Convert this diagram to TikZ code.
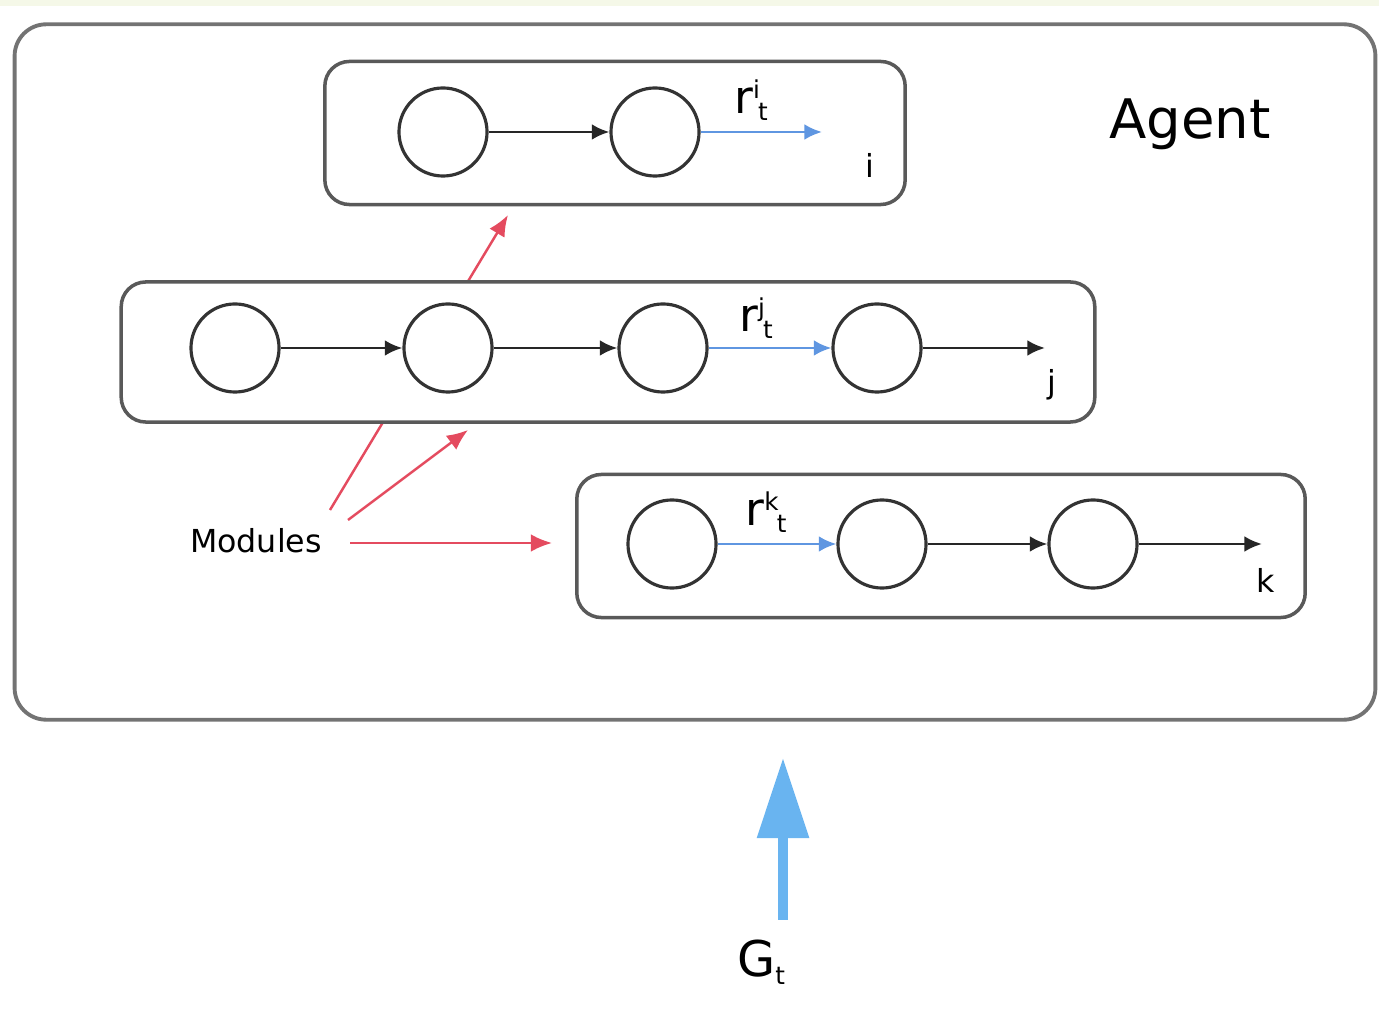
\documentclass[tikz,border=0pt]{standalone}
\usepackage{amsmath}
\usepackage{fontspec}
\setmainfont{DejaVu Sans}
\usetikzlibrary{arrows.meta}

\definecolor{rewblue}{RGB}{95,150,225}
\definecolor{inblue}{RGB}{105,180,240}
\definecolor{modred}{RGB}{228,75,95}
\definecolor{strip}{RGB}{245,248,232}

\begin{document}
\begin{tikzpicture}[x=0.01cm,y=-0.01cm,
  state/.style={circle,draw=black!80,line width=0.9pt,minimum size=0.88cm,inner sep=0pt},
  box/.style={draw=black!65,line width=1pt,rounded corners=7pt,fill=white,inner sep=0pt},
  flow/.style={-{Latex[length=5pt,width=4.5pt]},black!85,line width=0.8pt},
  rew/.style={-{Latex[length=5pt,width=4.5pt]},rewblue,line width=0.8pt},
  mod/.style={-{Latex[length=6pt,width=5pt]},modred,line width=0.7pt},
  rlab/.style={font=\fontsize{13}{13}\selectfont,inner sep=0pt},
  idx/.style={font=\fontsize{9}{9}\selectfont,inner sep=0pt}]
\useasboundingbox (0,0) rectangle (1379,1028);
\fill[strip] (0,0) rectangle (1379,6);

\node[draw=black!55,line width=1.1pt,rounded corners=9pt,minimum width=13.6cm,minimum height=6.95cm,inner sep=0pt] (agent) at (695,372) {};
\node[font=\fontsize{15.5}{15.5}\selectfont] (agentlab) at (1190,124) {Agent};

% the module arrow that runs behind the middle box
\coordinate (m1) at (330,510);
\coordinate (m1end) at (508,215);
\draw[mod] (m1) -- (m1end);

% module i
\node[box,minimum width=5.8cm,minimum height=1.43cm] (boxi) at (615,133) {};
\node[state] (i1) at (443,132) {};
\node[state] (i2) at (655,132) {};
\coordinate (iend) at (822,132);
\draw[flow] (i1) -- (i2);
\draw[rew] (i2) -- (iend);
\node[rlab] (ri) at (752,100) {r$^{\text{\scriptsize i}}$\kern-1pt$_{\text{\scriptsize t}}$};
\node[idx] (li) at (870,165) {i};

% module j
\node[box,minimum width=9.73cm,minimum height=1.4cm] (boxj) at (608,352) {};
\node[state] (j1) at (235,348) {};
\node[state] (j2) at (448,348) {};
\node[state] (j3) at (663,348) {};
\node[state] (j4) at (877,348) {};
\coordinate (jend) at (1045,348);
\draw[flow] (j1) -- (j2);
\draw[flow] (j2) -- (j3);
\draw[rew] (j3) -- (j4);
\draw[flow] (j4) -- (jend);
\node[rlab] (rj) at (757,318) {r$^{\text{\scriptsize j}}$\kern-1pt$_{\text{\scriptsize t}}$};
\node[idx] (lj) at (1052,385) {j};

% module k
\node[box,minimum width=7.28cm,minimum height=1.43cm] (boxk) at (941,546) {};
\node[state] (k1) at (672,544) {};
\node[state] (k2) at (882,544) {};
\node[state] (k3) at (1093,544) {};
\coordinate (kend) at (1262,544);
\draw[rew] (k1) -- (k2);
\draw[flow] (k2) -- (k3);
\draw[flow] (k3) -- (kend);
\node[rlab] (rk) at (767,512) {r$^{\text{\scriptsize k}}$\kern-1pt$_{\text{\scriptsize t}}$};
\node[idx] (lk) at (1266,580) {k};

% modules label
\node[font=\fontsize{9}{9}\selectfont] (mods) at (256,541) {Modules};
\coordinate (m2) at (348,520);
\coordinate (m2end) at (468,430);
\coordinate (m3) at (350,543);
\coordinate (m3end) at (552,543);
\draw[mod] (m2) -- (m2end);
\draw[mod] (m3) -- (m3end);

% input
\node[font=\fontsize{14}{14}\selectfont] (g) at (762,962) {G$_{\text{\scriptsize t}}$};
\coordinate (gtop) at (783,758);
\draw[-{Triangle[length=0.8cm,width=0.5cm]},inblue,line width=2.6pt] (g.north -| gtop) ++(0,-8) -- (gtop);
\end{tikzpicture}
\end{document}
